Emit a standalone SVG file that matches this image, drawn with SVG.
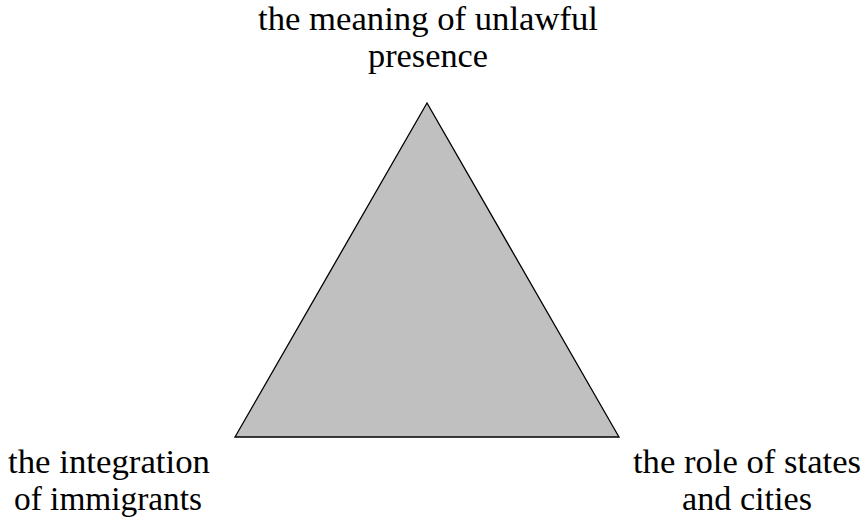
<svg xmlns="http://www.w3.org/2000/svg" width="866" height="518" viewBox="0 0 866 518">
<style>
text{font-family:"Liberation Serif",serif;font-size:33px;fill:#000;text-anchor:middle}
.tri{fill:#c0c0c0;stroke:#000;stroke-width:1.3;stroke-linejoin:miter}
</style>
<rect width="866" height="518" fill="#fff"/>
<g id="triangle"><polygon class="tri" points="427,103 235,437 619,437"/></g>
<g id="node-top">
<text x="428" y="30" textLength="340" lengthAdjust="spacingAndGlyphs">the meaning of unlawful</text>
<text x="428" y="67" textLength="120" lengthAdjust="spacingAndGlyphs">presence</text>
</g>
<g id="node-left">
<text x="109" y="473" textLength="202" lengthAdjust="spacingAndGlyphs">the integration</text>
<text x="108" y="510" textLength="188" lengthAdjust="spacingAndGlyphs">of immigrants</text>
</g>
<g id="node-right">
<text x="747" y="473" textLength="228" lengthAdjust="spacingAndGlyphs">the role of states</text>
<text x="747" y="510" textLength="130" lengthAdjust="spacingAndGlyphs">and cities</text>
</g>
<g id="connectors"></g>
</svg>
